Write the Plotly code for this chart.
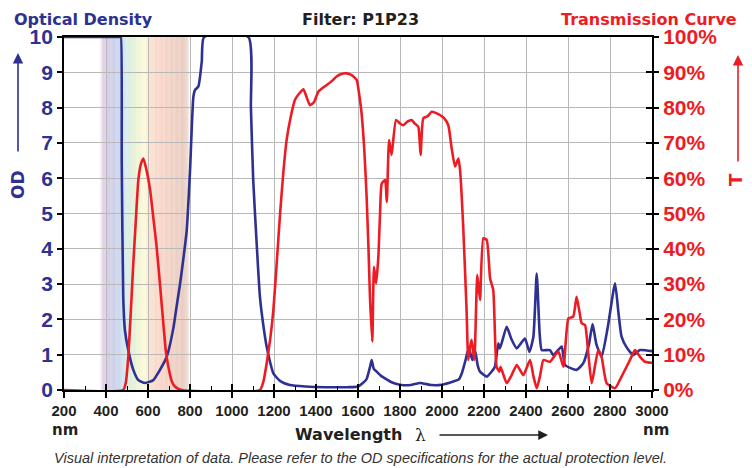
import plotly.graph_objects as go

# ---------------- data ----------------
od_nm = [200, 468, 471, 475, 482, 490, 506, 530, 554, 586, 625, 657, 689, 721, 736, 752, 768, 784,
         800, 816, 824, 840, 856, 867, 1078, 1090, 1101, 1117, 1133, 1150, 1165, 1181, 1197, 1230,
         1276, 1350, 1450, 1550, 1601, 1640, 1657, 1665, 1675, 1689, 1710, 1737, 1760, 1800, 1850,
         1895, 1950, 2000, 2054, 2080, 2094, 2110, 2125, 2133, 2145, 2157, 2170, 2181, 2213, 2240,
         2252, 2268, 2276, 2308, 2330, 2356, 2395, 2416, 2435, 2451, 2465, 2475, 2514, 2530, 2570,
         2586, 2641, 2673, 2700, 2717, 2735, 2760, 2790, 2824, 2840, 2855, 2880, 2911, 2943, 3000]
od_val = [10, 10, 10, 6.4, 2.64, 1.7, 1.13, 0.57, 0.28, 0.2, 0.28, 0.57, 0.94, 1.76, 2.36, 2.98, 3.7, 4.5,
          6.2, 8.3, 8.5, 8.6, 9.3, 10, 10, 8.0, 5.95, 4.2, 2.64, 1.8, 1.23, 0.8, 0.47, 0.25,
          0.14, 0.1, 0.08, 0.08, 0.1, 0.3, 0.65, 0.85, 0.6, 0.52, 0.4, 0.3, 0.22, 0.15, 0.14,
          0.2, 0.14, 0.15, 0.24, 0.3, 0.47, 0.8, 1.13, 1.08, 0.85, 1.13, 0.7, 0.52, 0.38, 0.55,
          0.66, 1.32, 1.18, 1.79, 1.45, 1.18, 1.46, 1.08, 1.5, 3.3, 1.6, 1.13, 1.13, 0.99, 1.23,
          0.71, 0.57, 0.76, 1.3, 1.87, 1.3, 0.94, 1.8, 3.02, 2.2, 1.51, 1.2, 0.99, 1.13, 1.1]

t_nm = [200, 482, 494, 506, 518, 530, 542, 554, 566, 578, 594, 610, 625, 641, 657, 673, 685, 697, 713,
        729, 760, 1133, 1150, 1165, 1181, 1197, 1213, 1229, 1245, 1260, 1280, 1300, 1320, 1340, 1355,
        1371, 1390, 1411, 1430, 1451, 1475, 1498, 1520, 1546, 1570, 1594, 1605, 1617, 1630, 1641,
        1650, 1657, 1668, 1676, 1686, 1697, 1705, 1713, 1729, 1737, 1748, 1760, 1781, 1800, 1816,
        1835, 1855, 1870, 1887, 1898, 1911, 1930, 1951, 1970, 1990, 2010, 2030, 2046, 2062, 2078,
        2086, 2101, 2117, 2125, 2133, 2141, 2154, 2168, 2181, 2197, 2213, 2229, 2244, 2260, 2273,
        2279, 2308, 2330, 2356, 2387, 2419, 2435, 2451, 2467, 2483, 2514, 2554, 2578, 2602, 2625,
        2641, 2655, 2665, 2681, 2697, 2713, 2744, 2760, 2784, 2824, 2855, 2895, 2919, 2943, 2967, 3000]
t_val = [0, 0, 2, 9.4, 22, 35.9, 48, 59.5, 64, 65.6, 62, 56.7, 49, 40.6, 30, 18.9, 11, 6.6, 2.5,
         0.9, 0, 0, 2.5, 7.5, 14, 22.7, 36, 50, 62, 70.8, 77.5, 82.2, 84, 85.2, 83,
         80.7, 81.5, 84.5, 85.5, 86.4, 87.5, 88.8, 89.5, 89.7, 89.2, 87.8, 84, 78.4, 68, 54.8,
         40, 26.4, 13.7, 34.9, 30.2, 37.8, 50, 58.5, 59.5, 53.3, 70.8, 66.6, 76.5, 75.5, 75,
         76, 76.5, 75.5, 74.6, 66.6, 77, 77.5, 78.8, 78.5, 77.9, 77, 75, 68.5, 63.3, 65.6,
         62.3, 46.3, 22.7, 8.5, 12, 14.2, 8.5, 32.6, 25.5, 43, 42.5, 31.6, 28.3, 6.6, 5.2,
         6.6, 1.9, 4, 7.1, 4.2, 8.5, 4, 0.5, 4, 8.5, 8, 10.9, 6.6, 20.3, 20.8,
         26.4, 22, 18.9, 18.4, 10, 1.9, 11.3, 9.4, 1.9, 0.5, 3.8, 8.5, 11.3, 9.4, 8, 7.7]

x_ticks = list(range(200, 3001, 200))
x_labels = [str(v) for v in x_ticks]
od_ticks = list(range(0, 11))
t_ticks = list(range(0, 101, 10))
t_labels = [f"{v}%" for v in t_ticks]

# ---------------- style ----------------
BLUE = "#2e3192"
RED = "#ed1c24"
DARK = "#231f20"
GRID = "#b8b8b8"

OFF = 8  # page body margin offset
W, H = 752 - OFF, 468 - OFF
# target plot area in page pixels: x 64..652, y 37..390
L, T = 64 - OFF, 37 - OFF
R = W - (652 - OFF)
B = H - (390 - OFF)
PW, PH = W - L - R, H - T - B


def px(x):
    return (x - OFF - L) / PW


def py(y):
    return (H - B - (y - OFF)) / PH


fig = go.Figure()

fig.add_trace(go.Scatter(x=t_nm, y=t_val, yaxis="y2", mode="lines",
                         line=dict(color=RED, width=2.6, shape="spline", smoothing=0.5),
                         hoverinfo="skip", showlegend=False))
fig.add_trace(go.Scatter(x=od_nm, y=od_val, mode="lines",
                         line=dict(color=BLUE, width=2.6, shape="spline", smoothing=0.5),
                         hoverinfo="skip", showlegend=False))

# rainbow visible band
stops = [(370, (255, 255, 255)), (385, (222, 204, 230)), (410, (208, 198, 226)), (440, (196, 201, 229)),
         (470, (196, 213, 236)), (490, (206, 230, 240)), (505, (212, 235, 222)), (530, (222, 238, 212)),
         (560, (240, 245, 206)), (585, (253, 248, 212)), (605, (250, 227, 202)), (630, (248, 214, 196)),
         (680, (245, 205, 190)), (730, (236, 200, 186)), (775, (228, 195, 183)), (790, (238, 218, 210)),
         (800, (255, 255, 255))]


def col_at(w):
    for (a, ca), (b, cb) in zip(stops[:-1], stops[1:]):
        if a <= w <= b:
            f = (w - a) / (b - a)
            return tuple(round(ca[i] + (cb[i] - ca[i]) * f) for i in range(3))
    return (255, 255, 255)


shapes = []
step = 4
for w in range(370, 800, step):
    c = col_at(w + step / 2)
    shapes.append(dict(type="rect", xref="x", yref="paper", x0=w, x1=w + step, y0=0, y1=1,
                       fillcolor=f"rgb{c}", line=dict(width=0), layer="below"))

annotations = [
    dict(text="<b>Optical Density</b>", x=px(12), y=py(OFF), xref="paper", yref="paper",
         xanchor="left", yanchor="top", showarrow=False,
         font=dict(family="DejaVu Sans", size=16, color=BLUE)),
    dict(text="<b>Filter: P1P23</b>", x=px(361), y=py(OFF), xref="paper", yref="paper",
         xanchor="center", yanchor="top", showarrow=False,
         font=dict(family="DejaVu Sans", size=16, color=DARK)),
    dict(text="<b>Transmission Curve</b>", x=px(739), y=py(OFF), xref="paper", yref="paper",
         xanchor="right", yanchor="top", showarrow=False,
         font=dict(family="DejaVu Sans", size=16, color=RED)),
    dict(text="<b>OD</b>", x=px(18), y=py(185), xref="paper", yref="paper", textangle=-90,
         xanchor="center", yanchor="middle", showarrow=False,
         font=dict(family="DejaVu Sans", size=17, color=BLUE)),
    dict(text="", x=px(18), y=py(53), xref="paper", yref="paper", ax=0, ay=100,
         showarrow=True, arrowhead=2, arrowsize=1.3, arrowwidth=1.6, arrowcolor=BLUE),
    dict(text="<b>T</b>", x=px(735), y=py(180), xref="paper", yref="paper", textangle=-90,
         xanchor="center", yanchor="middle", showarrow=False,
         font=dict(family="DejaVu Sans", size=18, color=RED)),
    dict(text="", x=px(738), y=py(55), xref="paper", yref="paper", ax=0, ay=108,
         showarrow=True, arrowhead=2, arrowsize=1.3, arrowwidth=1.6, arrowcolor=RED),
    dict(text="<b>nm</b>", x=px(65), y=py(430), xref="paper", yref="paper",
         xanchor="center", yanchor="middle", showarrow=False,
         font=dict(family="DejaVu Sans", size=15, color=DARK)),
    dict(text="<b>nm</b>", x=px(656), y=py(430), xref="paper", yref="paper",
         xanchor="center", yanchor="middle", showarrow=False,
         font=dict(family="DejaVu Sans", size=15, color=DARK)),
    dict(text="<b>Wavelength</b>", x=px(293), y=py(435), xref="paper", yref="paper",
         xanchor="left", yanchor="middle", showarrow=False,
         font=dict(family="DejaVu Sans", size=16, color=DARK)),
    dict(text="λ", x=px(420), y=py(435), xref="paper", yref="paper",
         xanchor="center", yanchor="middle", showarrow=False,
         font=dict(family="DejaVu Serif", size=17, color=DARK)),
    dict(text="", x=px(548), y=py(435), xref="paper", yref="paper", ax=-110, ay=0,
         showarrow=True, arrowhead=2, arrowsize=1.3, arrowwidth=1.5, arrowcolor=DARK),
    dict(text="<i>Visual interpretation of data. Please refer to the OD specifications for the actual protection level.</i>",
         x=px(361), y=py(458), xref="paper", yref="paper",
         xanchor="center", yanchor="middle", showarrow=False,
         font=dict(family="Liberation Sans", size=14.5, color="#333333")),
]

axis_font = dict(family="Liberation Sans", size=15, color=DARK, weight="bold")

fig.update_layout(
    width=W, height=H,
    margin=dict(l=L, r=R, t=T, b=B, pad=0),
    paper_bgcolor="white", plot_bgcolor="white",
    showlegend=False,
    shapes=shapes,
    annotations=annotations,
    xaxis=dict(range=[200, 3000], tickvals=x_ticks, ticktext=x_labels,
               showgrid=True, gridcolor=GRID, gridwidth=1,
               showline=True, linecolor="black", linewidth=1.8, mirror=True,
               ticks="outside", ticklen=6, tickwidth=1.8, tickcolor="black",
               tickfont=axis_font, zeroline=False),
    xaxis2=dict(range=[200, 3000], overlaying="x", matches="x", tickvals=x_ticks,
                showticklabels=False, showgrid=False, showline=False,
                ticks="inside", ticklen=6, tickwidth=1.8, tickcolor="black",
                minor=dict(ticks="inside", ticklen=4, tickwidth=1.2, tickcolor="black", dtick=100,
                           showgrid=False),
                zeroline=False),
    yaxis=dict(range=[0, 10], tickvals=od_ticks,
               showgrid=True, gridcolor=GRID, gridwidth=1,
               showline=True, linecolor="black", linewidth=1.8, mirror=True,
               ticks="outside", ticklen=5, tickwidth=1.5, tickcolor="black",
               tickfont=dict(family="Liberation Sans", size=21, color=BLUE, weight="bold"),
               zeroline=False),
    yaxis2=dict(range=[0, 100], overlaying="y", side="right", tickvals=t_ticks, ticktext=t_labels,
                showgrid=False, showline=False,
                ticks="outside", ticklen=6, tickwidth=1.8, tickcolor="black",
                tickfont=dict(family="Liberation Sans", size=21, color=RED, weight="bold"),
                zeroline=False),
    yaxis3=dict(range=[0, 100], overlaying="y", side="right", tickvals=t_ticks,
                showticklabels=False, showgrid=False, showline=False,
                ticks="inside", ticklen=6, tickwidth=1.8, tickcolor="black",
                zeroline=False),
)

fig.add_trace(go.Scatter(x=[None], y=[None], xaxis="x2", yaxis="y3", showlegend=False, hoverinfo="skip"))

fig.write_html("out.html")
